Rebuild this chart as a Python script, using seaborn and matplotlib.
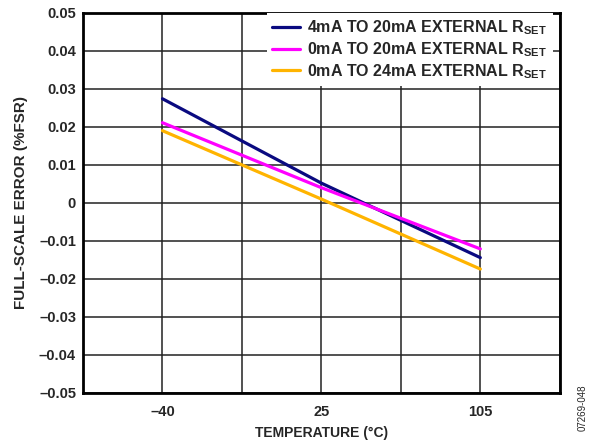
import matplotlib
matplotlib.use("Agg")
import matplotlib.pyplot as plt
import seaborn as sns
import pandas as pd

temps = ["\u201340", "25", "105"]
series_names = [
    "4mA TO 20mA EXTERNAL R$_\\mathbf{SET}$",
    "0mA TO 20mA EXTERNAL R$_\\mathbf{SET}$",
    "0mA TO 24mA EXTERNAL R$_\\mathbf{SET}$",
]
err_4_20 = [0.0274, 0.0052, -0.0144]
err_0_20 = [0.0211, 0.0040, -0.0121]
err_0_24 = [0.0190, 0.0010, -0.0174]
colors = ["#0A0A80", "#FF00FF", "#FFB400"]
yticks = [-0.05, -0.04, -0.03, -0.02, -0.01, 0, 0.01, 0.02, 0.03, 0.04, 0.05]

sns.set_theme(style="white")
plt.rcParams["font.family"] = ["Liberation Sans", "DejaVu Sans"]
plt.rcParams["mathtext.fontset"] = "custom"
plt.rcParams["mathtext.rm"] = "Liberation Sans:bold"
plt.rcParams["mathtext.bf"] = "Liberation Sans:bold"

rows = []
for name, vals in zip(series_names, [err_4_20, err_0_20, err_0_24]):
    for t, v in zip(temps, vals):
        rows.append({"temp": t, "err": v, "series": name})
df = pd.DataFrame(rows)

fig = plt.figure(figsize=(5.93, 4.44), dpi=100)
ax = fig.add_axes([0.140, 0.115, 0.804, 0.856])

sns.lineplot(data=df, x="temp", y="err", hue="series", palette=colors,
             linewidth=2.3, ax=ax, sort=False)

ax.set_xlim(-0.5, 2.5)
ax.set_ylim(-0.05, 0.05)
ax.set_xticks(range(len(temps)))
ax.set_xticklabels(temps)
ax.set_xticks([-0.5, 0.5, 1.5, 2.5], minor=True)
ax.set_yticks(yticks)
ax.set_yticklabels(["0" if v == 0 else f"{v:.2f}".replace("-", "\u2013") for v in yticks])
ax.grid(True, which="both", color="#222222", linewidth=1.1)
ax.tick_params(which="both", length=0, labelsize=10.5)
ax.tick_params(axis="x", pad=9)
ax.tick_params(axis="y", pad=5)
for lab in ax.get_xticklabels() + ax.get_yticklabels():
    lab.set_fontweight("bold")
for s in ax.spines.values():
    s.set_visible(True)
    s.set_color("black")
    s.set_linewidth(2)

ax.set_xlabel("TEMPERATURE (\u00b0C)", fontsize=10, fontweight="bold", labelpad=5)
ax.set_ylabel("FULL-SCALE ERROR (%FSR)", fontsize=11, fontweight="bold", labelpad=8)

leg = ax.legend(loc="upper right", bbox_to_anchor=(0.985, 1.0), frameon=True,
                facecolor="white", edgecolor="none", framealpha=1,
                fontsize=11.5, handlelength=1.75, handletextpad=0.45,
                labelspacing=0.19, borderpad=0.35, borderaxespad=0.0)
for t in leg.get_texts():
    t.set_fontweight("bold")
leg.get_frame().set_boxstyle("square", pad=0)

fig.text(0.983, 0.03, "07269-048", rotation=90, fontsize=7, ha="center", va="bottom")

fig.savefig("out.png", dpi=100)
